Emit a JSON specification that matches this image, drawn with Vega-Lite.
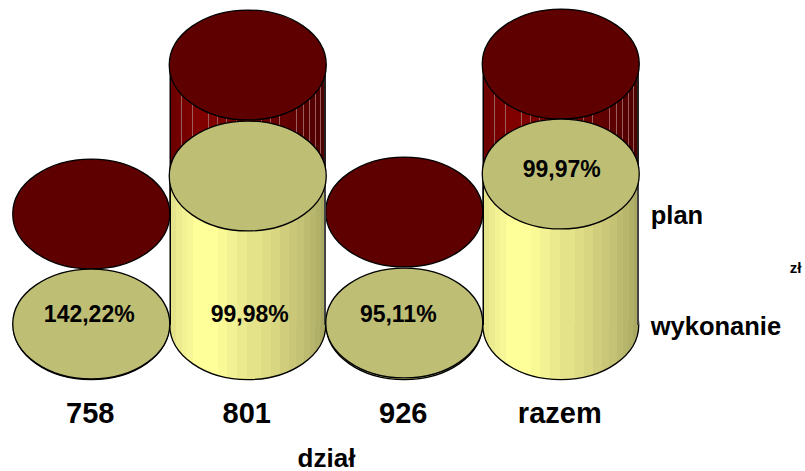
{"$schema":"https://vega.github.io/schema/vega-lite/v6.json","width":805,"height":385,"autosize":"none","padding":{"left":0,"top":0,"right":0,"bottom":86},"background":"white","config":{"view":{"stroke":null},"font":"Liberation Sans"},
"data":{"values":[{"dzial":"758","plan":1,"wykonanie":1,"procent":"142,22%"},{"dzial":"801","plan":150,"wykonanie":149,"procent":"99,98%"},{"dzial":"926","plan":3,"wykonanie":2,"procent":"95,11%"},{"dzial":"razem","plan":151,"wykonanie":151,"procent":"99,97%"}]},
"encoding":{"x":{"field":"dzial","type":"nominal","sort":null,"scale":{"type":"band","range":[13,639],"paddingInner":0,"paddingOuter":0},"axis":{"title":"dział","domain":false,"ticks":false,"grid":false,"labelAngle":0,"labelFont":"Liberation Sans","labelFontSize":29,"labelFontWeight":"bold","labelColor":"black","labelPadding":14,"labelOffset":-1,"titleFont":"Liberation Sans","titleFontSize":26,"titleFontWeight":"bold","titleColor":"black","titleX":326,"titleY":81,"titleAnchor":"middle","titleBaseline":"alphabetic"}}},
"layer":[
{"mark":{"type":"bar","yOffset":-110,"y2Offset":-110,"color":{"gradient":"linear","x1":0,"x2":1,"y1":0,"y2":0,"stops":[{"offset":0,"color":"#000"},{"offset":0.008,"color":"#000"},{"offset":0.008,"color":"#6e0000"},{"offset":0.039,"color":"#6e0000"},{"offset":0.039,"color":"#9c5c5c"},{"offset":0.043,"color":"#9c5c5c"},{"offset":0.043,"color":"#720000"},{"offset":0.075,"color":"#720000"},{"offset":0.075,"color":"#9c5c5c"},{"offset":0.079,"color":"#9c5c5c"},{"offset":0.079,"color":"#760000"},{"offset":0.109,"color":"#760000"},{"offset":0.109,"color":"#9c5c5c"},{"offset":0.113,"color":"#9c5c5c"},{"offset":0.113,"color":"#7b0000"},{"offset":0.146,"color":"#7b0000"},{"offset":0.146,"color":"#9c5c5c"},{"offset":0.15,"color":"#9c5c5c"},{"offset":0.15,"color":"#800000"},{"offset":0.199,"color":"#800000"},{"offset":0.199,"color":"#9c5c5c"},{"offset":0.203,"color":"#9c5c5c"},{"offset":0.203,"color":"#800000"},{"offset":0.248,"color":"#800000"},{"offset":0.248,"color":"#9c5c5c"},{"offset":0.252,"color":"#9c5c5c"},{"offset":0.252,"color":"#800000"},{"offset":0.306,"color":"#800000"},{"offset":0.306,"color":"#9c5c5c"},{"offset":0.31,"color":"#9c5c5c"},{"offset":0.31,"color":"#7c0000"},{"offset":0.364,"color":"#7c0000"},{"offset":0.364,"color":"#9c5c5c"},{"offset":0.368,"color":"#9c5c5c"},{"offset":0.368,"color":"#780000"},{"offset":0.428,"color":"#780000"},{"offset":0.428,"color":"#9c5c5c"},{"offset":0.432,"color":"#9c5c5c"},{"offset":0.432,"color":"#740000"},{"offset":0.492,"color":"#740000"},{"offset":0.492,"color":"#9c5c5c"},{"offset":0.496,"color":"#9c5c5c"},{"offset":0.496,"color":"#700000"},{"offset":0.584,"color":"#700000"},{"offset":0.584,"color":"#9c5c5c"},{"offset":0.588,"color":"#9c5c5c"},{"offset":0.588,"color":"#6c0000"},{"offset":0.643,"color":"#6c0000"},{"offset":0.643,"color":"#9c5c5c"},{"offset":0.647,"color":"#9c5c5c"},{"offset":0.647,"color":"#680000"},{"offset":0.701,"color":"#680000"},{"offset":0.701,"color":"#9c5c5c"},{"offset":0.705,"color":"#9c5c5c"},{"offset":0.705,"color":"#640000"},{"offset":0.761,"color":"#640000"},{"offset":0.761,"color":"#9c5c5c"},{"offset":0.765,"color":"#9c5c5c"},{"offset":0.765,"color":"#600000"},{"offset":0.808,"color":"#600000"},{"offset":0.808,"color":"#9c5c5c"},{"offset":0.812,"color":"#9c5c5c"},{"offset":0.812,"color":"#5c0000"},{"offset":0.855,"color":"#5c0000"},{"offset":0.855,"color":"#9c5c5c"},{"offset":0.859,"color":"#9c5c5c"},{"offset":0.859,"color":"#580000"},{"offset":0.893,"color":"#580000"},{"offset":0.893,"color":"#9c5c5c"},{"offset":0.897,"color":"#9c5c5c"},{"offset":0.897,"color":"#540000"},{"offset":0.93,"color":"#540000"},{"offset":0.93,"color":"#9c5c5c"},{"offset":0.934,"color":"#9c5c5c"},{"offset":0.934,"color":"#500000"},{"offset":0.962,"color":"#500000"},{"offset":0.962,"color":"#9c5c5c"},{"offset":0.966,"color":"#9c5c5c"},{"offset":0.966,"color":"#4c0000"},{"offset":0.988,"color":"#4c0000"},{"offset":0.988,"color":"#222"},{"offset":1,"color":"#222"}]}},"encoding":{"y":{"field":"plan","type":"quantitative","scale":{"domain":[0,325],"range":[325,0]},"axis":null},"y2":{"datum":0}}},
{"mark":{"type":"point","filled":true,"opacity":1,"size":24649,"shape":"M-1 0A1 .7 0 1 1 1 0A1 .7 0 1 1 -1 0Z","yOffset":-110,"fill":"#5f0000","stroke":"black","strokeWidth":1.3},"encoding":{"y":{"field":"plan","type":"quantitative","scale":{"domain":[0,325],"range":[325,0]},"axis":null}}},
{"mark":{"type":"point","filled":true,"opacity":1,"size":24336,"shape":"M-1 0A1 .7 0 1 1 1 0A1 .7 0 1 1 -1 0Z","stroke":"black","strokeWidth":1.3,"fill":{"gradient":"linear","x1":0,"x2":1,"y1":0,"y2":0,"stops":[{"offset":0,"color":"#e6e48a"},{"offset":0.043,"color":"#e6e48a"},{"offset":0.043,"color":"#eceb8f"},{"offset":0.079,"color":"#eceb8f"},{"offset":0.079,"color":"#f2f194"},{"offset":0.113,"color":"#f2f194"},{"offset":0.113,"color":"#f8f797"},{"offset":0.15,"color":"#f8f797"},{"offset":0.15,"color":"#ffff99"},{"offset":0.31,"color":"#ffff99"},{"offset":0.31,"color":"#f9f996"},{"offset":0.368,"color":"#f9f996"},{"offset":0.368,"color":"#f2f193"},{"offset":0.432,"color":"#f2f193"},{"offset":0.432,"color":"#ebea8e"},{"offset":0.496,"color":"#ebea8e"},{"offset":0.496,"color":"#e5e38a"},{"offset":0.588,"color":"#e5e38a"},{"offset":0.588,"color":"#dedc85"},{"offset":0.647,"color":"#dedc85"},{"offset":0.647,"color":"#d8d681"},{"offset":0.705,"color":"#d8d681"},{"offset":0.705,"color":"#d0ce7d"},{"offset":0.765,"color":"#d0ce7d"},{"offset":0.765,"color":"#cac878"},{"offset":0.812,"color":"#cac878"},{"offset":0.812,"color":"#c4c274"},{"offset":0.859,"color":"#c4c274"},{"offset":0.859,"color":"#bdbb70"},{"offset":0.897,"color":"#bdbb70"},{"offset":0.897,"color":"#b7b66c"},{"offset":0.934,"color":"#b7b66c"},{"offset":0.934,"color":"#b1b068"},{"offset":0.966,"color":"#b1b068"},{"offset":0.966,"color":"#aaa963"},{"offset":1,"color":"#aaa963"}]}},"encoding":{"y":{"datum":0,"type":"quantitative","scale":{"domain":[0,325],"range":[325,0]},"axis":null}}},
{"mark":{"type":"bar","color":{"gradient":"linear","x1":0,"x2":1,"y1":0,"y2":0,"stops":[{"offset":0,"color":"#000"},{"offset":0.008,"color":"#000"},{"offset":0.008,"color":"#e6e48a"},{"offset":0.043,"color":"#e6e48a"},{"offset":0.043,"color":"#eceb8f"},{"offset":0.079,"color":"#eceb8f"},{"offset":0.079,"color":"#f2f194"},{"offset":0.113,"color":"#f2f194"},{"offset":0.113,"color":"#f8f797"},{"offset":0.15,"color":"#f8f797"},{"offset":0.15,"color":"#ffff99"},{"offset":0.31,"color":"#ffff99"},{"offset":0.31,"color":"#f9f996"},{"offset":0.368,"color":"#f9f996"},{"offset":0.368,"color":"#f2f193"},{"offset":0.432,"color":"#f2f193"},{"offset":0.432,"color":"#ebea8e"},{"offset":0.496,"color":"#ebea8e"},{"offset":0.496,"color":"#e5e38a"},{"offset":0.588,"color":"#e5e38a"},{"offset":0.588,"color":"#dedc85"},{"offset":0.647,"color":"#dedc85"},{"offset":0.647,"color":"#d8d681"},{"offset":0.705,"color":"#d8d681"},{"offset":0.705,"color":"#d0ce7d"},{"offset":0.765,"color":"#d0ce7d"},{"offset":0.765,"color":"#cac878"},{"offset":0.812,"color":"#cac878"},{"offset":0.812,"color":"#c4c274"},{"offset":0.859,"color":"#c4c274"},{"offset":0.859,"color":"#bdbb70"},{"offset":0.897,"color":"#bdbb70"},{"offset":0.897,"color":"#b7b66c"},{"offset":0.934,"color":"#b7b66c"},{"offset":0.934,"color":"#b1b068"},{"offset":0.966,"color":"#b1b068"},{"offset":0.966,"color":"#aaa963"},{"offset":0.988,"color":"#aaa963"},{"offset":0.988,"color":"#444"},{"offset":1,"color":"#444"}]}},"encoding":{"y":{"field":"wykonanie","type":"quantitative","scale":{"domain":[0,325],"range":[325,0]},"axis":null},"y2":{"datum":0}}},
{"mark":{"type":"point","filled":true,"opacity":1,"size":24649,"shape":"M-1 0A1 .7 0 1 1 1 0A1 .7 0 1 1 -1 0Z","fill":"#bfbe75","stroke":"black","strokeWidth":1.3},"encoding":{"y":{"field":"wykonanie","type":"quantitative","scale":{"domain":[0,325],"range":[325,0]},"axis":null}}},
{"transform":[{"filter":"datum.dzial=='758'"}],"mark":{"type":"text","font":"Liberation Sans","fontWeight":"bold","fontSize":23,"color":"black","dx":-2,"dy":-10},"encoding":{"text":{"field":"procent"},"y":{"datum":0,"type":"quantitative","scale":{"domain":[0,325],"range":[325,0]},"axis":null}}},
{"transform":[{"filter":"datum.dzial=='801'"}],"mark":{"type":"text","font":"Liberation Sans","fontWeight":"bold","fontSize":23,"color":"black","dx":2,"dy":-10},"encoding":{"text":{"field":"procent"},"y":{"datum":0,"type":"quantitative","scale":{"domain":[0,325],"range":[325,0]},"axis":null}}},
{"transform":[{"filter":"datum.dzial=='926'"}],"mark":{"type":"text","font":"Liberation Sans","fontWeight":"bold","fontSize":23,"color":"black","dx":-6,"dy":-10},"encoding":{"text":{"field":"procent"},"y":{"datum":0,"type":"quantitative","scale":{"domain":[0,325],"range":[325,0]},"axis":null}}},
{"transform":[{"filter":"datum.dzial=='razem'"}],"mark":{"type":"text","font":"Liberation Sans","fontWeight":"bold","fontSize":23,"color":"black","dx":1,"dy":-4},"encoding":{"text":{"field":"procent"},"y":{"field":"wykonanie","type":"quantitative","scale":{"domain":[0,325],"range":[325,0]},"axis":null}}},
{"transform":[{"filter":"datum.dzial=='razem'"}],"mark":{"type":"text","text":"plan","font":"Liberation Sans","fontWeight":"bold","fontSize":25.5,"color":"black","align":"left","dx":90,"dy":-109},"encoding":{"y":{"datum":0,"type":"quantitative","scale":{"domain":[0,325],"range":[325,0]},"axis":null}}},
{"transform":[{"filter":"datum.dzial=='razem'"}],"mark":{"type":"text","text":"wykonanie","font":"Liberation Sans","fontWeight":"bold","fontSize":25.5,"color":"black","align":"left","dx":90,"dy":2},"encoding":{"y":{"datum":0,"type":"quantitative","scale":{"domain":[0,325],"range":[325,0]},"axis":null}}},
{"transform":[{"filter":"datum.dzial=='razem'"}],"mark":{"type":"text","text":"zł","font":"Liberation Sans","fontWeight":"bold","fontSize":15,"color":"black","align":"left","dx":229,"dy":-57},"encoding":{"y":{"datum":0,"type":"quantitative","scale":{"domain":[0,325],"range":[325,0]},"axis":null}}}
]}
